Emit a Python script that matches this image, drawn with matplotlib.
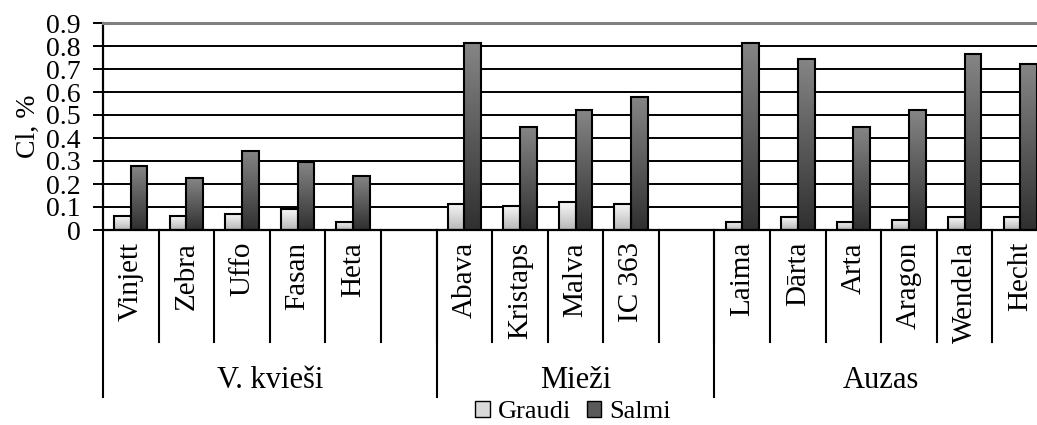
import numpy as np
import matplotlib
matplotlib.use("Agg")
import matplotlib.pyplot as plt
from matplotlib.colors import LinearSegmentedColormap
from matplotlib.patches import Patch

plt.rcParams["font.family"] = ["Liberation Serif", "DejaVu Serif"]

# slots per group ("" = empty spacer slot, as in the original)
groups = ["V. kvieši", "Mieži", "Auzas"]
group_sizes = [6, 5, 6]
categories = ["Vinjett", "Zebra", "Uffo", "Fasan", "Heta", "",
              "Abava", "Kristaps", "Malva", "IC 363", "",
              "Laima", "Dārta", "Arta", "Aragon", "Wendela", "Hecht"]
graudi = [0.06, 0.06, 0.07, 0.09, 0.035, np.nan,
          0.115, 0.105, 0.12, 0.115, np.nan,
          0.035, 0.055, 0.035, 0.045, 0.055, 0.055]
salmi = [0.28, 0.225, 0.345, 0.295, 0.235, np.nan,
         0.815, 0.45, 0.52, 0.58, np.nan,
         0.815, 0.745, 0.45, 0.52, 0.765, 0.72]
yticks = [0, 0.1, 0.2, 0.3, 0.4, 0.5, 0.6, 0.7, 0.8, 0.9]

W, H = 1037, 425
fig = plt.figure(figsize=(W / 100, H / 100), dpi=100)
ax = fig.add_axes([103 / W, (H - 230) / H, 945 / W, 207 / H])

GRAUDI_CM = LinearSegmentedColormap.from_list("g", ["#f7f7f7", "#b8b8b8"])
SALMI_CM = LinearSegmentedColormap.from_list("s", ["#858585", "#303030"])
grad = np.linspace(0, 1, 64).reshape(-1, 1)


def grad_bar(x, w, h, cmap):
    if np.isnan(h):
        return
    ax.imshow(grad, extent=[x - w / 2, x + w / 2, 0, h], origin="upper",
              aspect="auto", cmap=cmap, vmin=0, vmax=1, zorder=2)
    ax.bar(x, h, w, facecolor="none", edgecolor="black", lw=1.5, zorder=3)


bw = 0.3
for i in range(len(categories)):
    grad_bar(i - bw / 2, bw, graudi[i], GRAUDI_CM)
    grad_bar(i + bw / 2, bw, salmi[i], SALMI_CM)

n = len(categories)
ax.set_xlim(-0.5, n - 0.5)
ax.set_ylim(0, 0.9)
for y in yticks[1:-1]:
    ax.axhline(y, color="black", lw=1.4, zorder=1)

ax.set_yticks(yticks)
ax.set_yticklabels(["0" if v == 0 else f"{v:g}" for v in yticks], fontsize=20)
ax.tick_params(axis="y", length=7, width=1.4, pad=9, direction="out")
ax.set_xticks([])
ax.set_ylabel("Cl, %", fontsize=20, labelpad=4)

ax.spines["right"].set_visible(False)
ax.spines["top"].set_color("#7f7f7f")
ax.spines["top"].set_linewidth(2.2)
ax.spines["left"].set_linewidth(1.6)
ax.spines["bottom"].set_linewidth(1.6)

# multi-level category axis
tr = ax.get_xaxis_transform()
ph = 207.0
tick_bot = -112 / ph
grp_bot = -167 / ph
for i, c in enumerate(categories):
    if c:
        ax.text(i, -12 / ph, c, transform=tr, rotation=90, ha="center",
                va="top", fontsize=21)
for b in range(1, n):
    ax.plot([b - 0.5, b - 0.5], [0, tick_bot], transform=tr, color="black",
            lw=1.5, clip_on=False)

start = 0
for g, size in zip(groups, group_sizes):
    ax.plot([start - 0.5, start - 0.5], [0, grp_bot], transform=tr,
            color="black", lw=1.5, clip_on=False)
    ax.text(start + (size - 1) / 2, -158 / ph, g, transform=tr, ha="center",
            va="baseline", fontsize=22)
    start += size
ax.plot([start - 0.5, start - 0.5], [0, grp_bot], transform=tr,
        color="black", lw=1.5, clip_on=False)

handles = [Patch(facecolor="#d9d9d9", edgecolor="black", label="Graudi"),
           Patch(facecolor="#5a5a5a", edgecolor="black", label="Salmi")]
fig.legend(handles=handles, loc="center", bbox_to_anchor=(573 / W, 1 - 412 / H),
           ncol=2, frameon=False, fontsize=19, handlelength=0.55,
           handleheight=0.55, handletextpad=0.3, columnspacing=0.6,
           borderpad=0)

fig.savefig("out.png", dpi=100)
